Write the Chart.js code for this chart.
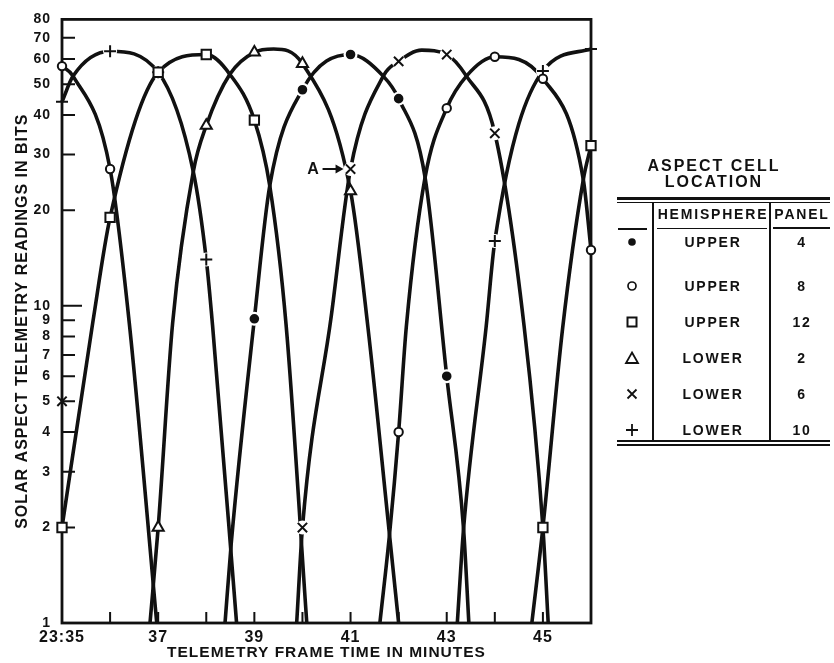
<!DOCTYPE html>
<html lang="en">
<head>
<meta charset="UTF-8">
<title>Solar Aspect Telemetry Readings</title>
<script src="https://cdn.jsdelivr.net/npm/chart.js"></script>
<style>
  body { margin: 0; background: #fff; }
  #wrap {
    position: relative; width: 834px; height: 663px;
    font-family: "Liberation Sans", Arial, sans-serif; font-weight: bold; color: #111;
  }
  #chart { position: absolute; left: 0; top: 0; }
  .abs { position: absolute; }
  .rule { position: absolute; background: #111; }
  .cap { left: 612px; width: 204px; text-align: center; font-size: 16px; line-height: 16px; letter-spacing: 2px; }
  .cell { text-align: center; font-size: 14px; line-height: 16px; letter-spacing: 1.8px; }
</style>
</head>
<body>
<div id="wrap">
  <canvas id="chart" width="834" height="663"></canvas>
  <div id="legend"></div>
</div>

<script>
// axis ticks
const yTicks = [1, 2, 3, 4, 5, 6, 7, 8, 9, 10, 20, 30, 40, 50, 60, 70, 80];
const xTicks = [35, 37, 39, 41, 43, 45];
const xTickLabels = ['23:35', '37', '39', '41', '43', '45'];
const minuteMarks = [36, 37, 38, 39, 40, 41, 42, 43, 44, 45];

// readings per aspect cell (frame time in minutes after 23:00, bits)
const upper4Times = [39, 40, 41, 42, 43];
const upper4Bits = [9.1, 48, 62, 45, 6];
const upper8Times = [35, 36, 42, 43, 44, 45, 46];
const upper8Bits = [57, 27, 4, 42, 61, 52, 15];
const upper12Times = [35, 36, 37, 38, 39, 45, 46];
const upper12Bits = [2, 19, 54.5, 62, 38.5, 2, 32];
const lower2Times = [37, 38, 39, 40, 41];
const lower2Bits = [2, 37, 63, 58, 23];
const lower6Times = [35, 40, 41, 42, 43, 44];
const lower6Bits = [5, 2, 27, 59, 62, 35];
const lower10Times = [35, 36, 37, 38, 44, 45, 46];
const lower10Bits = [44, 63.5, 54.5, 14, 16, 55, 64.5];

// faired arches: where each one leaves the 1-bit line, where it crosses
// its neighbours, and its crest where that falls between readings
const upper4Arc = [[38.39, 1], [38.52, 1.79], [39.32, 23.9], [41.68, 53], [42.55, 25.4], [43.35, 1.98], [43.46, 1]];
const upper8ArcA = [[35, 57], [35.23, 53], [36.4, 8.8], [36.97, 1]];
const upper8ArcB = [[41.61, 1], [41.81, 1.9], [42.16, 8.6], [42.55, 25.4], [43.41, 53], [45.84, 25], [46, 15]];
const upper12ArcA = [[35, 2], [35.64, 8.86], [38.49, 53.7], [39.32, 23.9], [39.66, 8.7], [40.09, 1]];
const upper12ArcB = [[44.77, 1], [45.41, 8.5], [45.84, 25], [46, 32]];
const lower2Arc = [[36.83, 1], [37.3, 8.8], [37.73, 26.5], [38.49, 53.7], [39.4, 64.5], [41.36, 8.6], [41.81, 1.9], [42, 1]];
const lower6Arc = [[39.88, 1], [40.6, 9.3], [41.68, 53], [42.48, 64], [43.41, 53], [44.61, 8.6], [45, 2], [45.11, 1]];
const lower10ArcA = [[35, 44], [35.23, 53], [37.73, 26.5], [38.13, 8.7], [38.63, 1]];
const lower10ArcB = [[43.22, 1], [43.35, 1.98], [43.82, 8.6], [46, 64.5]];

const hemispheres = ['UPPER', 'UPPER', 'UPPER', 'LOWER', 'LOWER', 'LOWER'];
const panels = [4, 8, 12, 2, 6, 10];

// reading picked out with the "A" pointer
const pointerTime = 41;

const INK = '#111';

const cells = [
  { times: upper4Times, bits: upper4Bits, arcs: [upper4Arc], style: 'circle', radius: 3.8, fill: INK, halo: true, glyph: 'dot' },
  { times: upper8Times, bits: upper8Bits, arcs: [upper8ArcA, upper8ArcB], style: 'circle', radius: 4.2, fill: '#fff', glyph: 'ring' },
  { times: upper12Times, bits: upper12Bits, arcs: [upper12ArcA, upper12ArcB], style: 'rect', radius: 6.6, fill: '#fff', glyph: 'square' },
  { times: lower2Times, bits: lower2Bits, arcs: [lower2Arc], style: 'triangle', radius: 6.4, fill: '#fff', glyph: 'triangle' },
  { times: lower6Times, bits: lower6Bits, arcs: [lower6Arc], style: 'crossRot', radius: 6.6, fill: '#fff', halo: true, glyph: 'x' },
  { times: lower10Times, bits: lower10Bits, arcs: [lower10ArcA, lower10ArcB], style: 'cross', radius: 6, fill: '#fff', halo: true, glyph: 'plus' }
];

// arch points merged with the readings that fall on it
function arcPoints(arc, times, bits) {
  const t0 = arc[0][0], t1 = arc[arc.length - 1][0];
  const pts = arc.map(([x, y]) => ({ x, y }));
  times.forEach((t, i) => {
    if (t < t0 || t > t1) return;
    const same = pts.find(p => p.x === t);
    if (same) same.y = bits[i];
    else pts.push({ x: t, y: bits[i] });
  });
  return pts.sort((a, b) => a.x - b.x);
}

const datasets = [];
cells.forEach(c => {
  const readings = c.times.map((t, i) => ({ x: t, y: c.bits[i] }));
  datasets.push({
    data: readings, showLine: false, order: 0, clip: false,
    pointStyle: c.style, pointRadius: c.radius, pointHoverRadius: c.radius,
    pointBackgroundColor: c.fill, pointBorderColor: INK, pointBorderWidth: 2
  });
  if (c.halo) {
    datasets.push({
      data: readings, showLine: false, order: 1, clip: false,
      pointStyle: 'circle',
      pointRadius: ctx => (ctx.raw && ctx.raw.x > 35 && ctx.raw.x < 46) ? 7 : 0,
      pointBackgroundColor: '#fff', pointBorderWidth: 0
    });
  }
  c.arcs.forEach(arc => {
    datasets.push({
      data: arcPoints(arc, c.times, c.bits), showLine: true, order: 2,
      pointRadius: 0, borderColor: INK, borderWidth: 3.6,
      cubicInterpolationMode: 'monotone', clip: 2
    });
  });
});

// plot frame, inward tick marks and the "A" pointer
const framePlugin = {
  id: 'frame',
  beforeDraw(chart) {
    chart.ctx.letterSpacing = '1px';
  },
  beforeDatasetsDraw(chart) {
    const { ctx, chartArea: a, scales: { x, y } } = chart;
    ctx.save();
    ctx.strokeStyle = INK;
    ctx.lineWidth = 2.8;
    ctx.strokeRect(a.left, a.top, a.right - a.left, a.bottom - a.top);
    ctx.lineWidth = 2;
    ctx.beginPath();
    yTicks.forEach(v => {
      if (v === 1 || v === 80) return;
      const py = y.getPixelForValue(v);
      ctx.moveTo(a.left, py);
      ctx.lineTo(a.left + (v === 10 ? 20 : 13), py);
    });
    minuteMarks.forEach(t => {
      const px = x.getPixelForValue(t);
      ctx.moveTo(px, a.bottom);
      ctx.lineTo(px, a.bottom - 11);
    });
    ctx.stroke();
    ctx.restore();
  },
  afterDatasetsDraw(chart) {
    const { ctx, scales: { x, y } } = chart;
    const i = lower6Times.indexOf(pointerTime);
    const px = x.getPixelForValue(pointerTime);
    const py = y.getPixelForValue(lower6Bits[i]);
    ctx.save();
    ctx.fillStyle = INK;
    ctx.strokeStyle = INK;
    ctx.font = 'bold 16px "Liberation Sans", Arial, sans-serif';
    ctx.textAlign = 'center';
    ctx.textBaseline = 'middle';
    ctx.fillText('A', px - 37, py + 1);
    ctx.lineWidth = 2;
    ctx.beginPath();
    ctx.moveTo(px - 28, py);
    ctx.lineTo(px - 13, py);
    ctx.stroke();
    ctx.beginPath();
    ctx.moveTo(px - 7, py);
    ctx.lineTo(px - 15, py - 4.5);
    ctx.lineTo(px - 15, py + 4.5);
    ctx.closePath();
    ctx.fill();
    ctx.restore();
  }
};

Chart.defaults.font.family = '"Liberation Sans", Arial, sans-serif';
Chart.defaults.font.weight = 'bold';
Chart.defaults.color = INK;

new Chart(document.getElementById('chart'), {
  type: 'scatter',
  data: { datasets },
  options: {
    responsive: false,
    animation: false,
    events: [],
    layout: { padding: { left: 0, top: 14, right: 243, bottom: 0 } },
    plugins: { legend: { display: false }, tooltip: { enabled: false } },
    scales: {
      x: {
        type: 'linear', min: 35, max: 46,
        grid: { display: false, drawTicks: false },
        border: { display: false },
        afterBuildTicks: s => { s.ticks = xTicks.map(value => ({ value })); },
        afterFit: s => { s.height = 40; },
        ticks: {
          autoSkip: false, maxRotation: 0, padding: 5,
          font: { size: 16, weight: 'bold' },
          callback: v => xTickLabels[xTicks.indexOf(v)]
        },
        title: {
          display: true, text: 'TELEMETRY FRAME TIME IN MINUTES',
          font: { size: 15.5, weight: 'bold' }, padding: { top: 0, bottom: 1 }
        }
      },
      y: {
        type: 'logarithmic', min: 1, max: 80,
        grid: { display: false, drawTicks: false },
        border: { display: false },
        afterBuildTicks: s => { s.ticks = yTicks.map(value => ({ value })); },
        afterFit: s => { s.width = 62; },
        ticks: {
          autoSkip: false, padding: 11,
          font: { size: 14, weight: 'bold' },
          callback: v => String(v)
        },
        title: {
          display: true, text: 'SOLAR ASPECT TELEMETRY READINGS IN BITS',
          font: { size: 16, weight: 'bold' }, padding: { top: 13, bottom: 0 }
        }
      }
    }
  },
  plugins: [framePlugin]
});

// aspect cell table
const glyphs = {
  dot: '<circle cx="8" cy="8" r="3.8" fill="#111"/>',
  ring: '<circle cx="8" cy="8" r="4" fill="none" stroke="#111" stroke-width="1.7"/>',
  square: '<rect x="3.5" y="3.5" width="9" height="9" fill="none" stroke="#111" stroke-width="2"/>',
  triangle: '<polygon points="8,2.5 14,13 2,13" fill="none" stroke="#111" stroke-width="1.8"/>',
  x: '<path d="M3.5 3.5L12.5 12.5M12.5 3.5L3.5 12.5" stroke="#111" stroke-width="1.8"/>',
  plus: '<path d="M8 2V14M2 8H14" stroke="#111" stroke-width="1.8"/>'
};
const rowCenters = [242, 286, 322, 358, 394, 430];
let html = '';
html += '<div class="abs cap" style="top:158px">ASPECT CELL</div>';
html += '<div class="abs cap" style="top:174px">LOCATION</div>';
html += '<div class="rule" style="left:617px;top:197px;width:213px;height:2.5px"></div>';
html += '<div class="rule" style="left:617px;top:201.5px;width:213px;height:1.5px"></div>';
html += '<div class="abs cell" style="left:654px;width:118px;top:206px">HEMISPHERE</div>';
html += '<div class="abs cell" style="left:772px;width:60px;top:206px">PANEL</div>';
html += '<div class="rule" style="left:652px;top:203px;width:1.8px;height:238px"></div>';
html += '<div class="rule" style="left:769px;top:203px;width:1.8px;height:238px"></div>';
html += '<div class="rule" style="left:618px;top:228px;width:29px;height:1.5px"></div>';
html += '<div class="rule" style="left:657px;top:227.5px;width:110px;height:1.5px"></div>';
html += '<div class="rule" style="left:773px;top:227px;width:57px;height:1.5px"></div>';
cells.forEach((c, i) => {
  const cy = rowCenters[i];
  html += `<svg class="abs" style="left:624px;top:${cy - 8}px" width="16" height="16">${glyphs[c.glyph]}</svg>`;
  html += `<div class="abs cell" style="left:654px;width:118px;top:${cy - 8}px">${hemispheres[i]}</div>`;
  html += `<div class="abs cell" style="left:772px;width:60px;top:${cy - 8}px">${panels[i]}</div>`;
});
html += '<div class="rule" style="left:617px;top:440px;width:213px;height:1.5px"></div>';
html += '<div class="rule" style="left:617px;top:443.5px;width:213px;height:2.5px"></div>';
document.getElementById('legend').innerHTML = html;
</script>
</body>
</html>
